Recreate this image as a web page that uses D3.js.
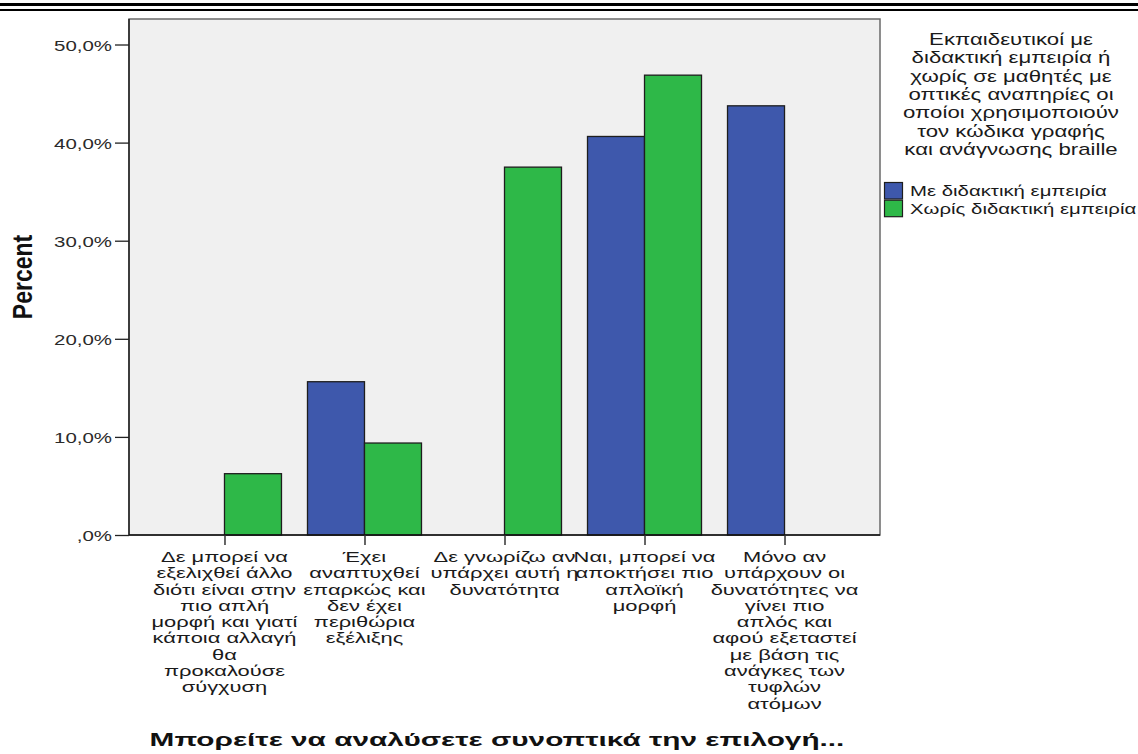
<!DOCTYPE html>
<html><head><meta charset="utf-8">
<script src="https://cdn.jsdelivr.net/npm/d3@7"></script>
<style>body{margin:0;background:#fff}svg{display:block}</style>
</head><body>
<svg id="c" width="1138" height="754"></svg>
<script>
// ---- data ----
const categories = [
  "Δε μπορεί να εξελιχθεί άλλο διότι είναι στην πιο απλή μορφή και γιατί κάποια αλλαγή θα προκαλούσε σύγχυση",
  "Έχει αναπτυχθεί επαρκώς και δεν έχει περιθώρια εξέλιξης",
  "Δε γνωρίζω αν υπάρχει αυτή η δυνατότητα",
  "Ναι, μπορεί να αποκτήσει πιο απλοϊκή μορφή",
  "Μόνο αν υπάρχουν οι δυνατότητες να γίνει πιο απλός και αφού εξεταστεί με βάση τις ανάγκες των τυφλών ατόμων"
];
const categoryLines = [
  ["Δε μπορεί να","εξελιχθεί άλλο","διότι είναι στην","πιο απλή","μορφή και γιατί","κάποια αλλαγή","θα","προκαλούσε","σύγχυση"],
  ["Έχει","αναπτυχθεί","επαρκώς και","δεν έχει","περιθώρια","εξέλιξης"],
  ["Δε γνωρίζω αν","υπάρχει αυτή η","δυνατότητα"],
  ["Ναι, μπορεί να","αποκτήσει πιο","απλοϊκή","μορφή"],
  ["Μόνο αν","υπάρχουν οι","δυνατότητες να","γίνει πιο","απλός και","αφού εξεταστεί","με βάση τις","ανάγκες των","τυφλών","ατόμων"]
];
const seriesNames = ["Με διδακτική εμπειρία", "Χωρίς διδακτική εμπειρία"];
const withExperience    = [0, 15.625, 0, 40.625, 43.75];
const withoutExperience = [6.25, 9.375, 37.5, 46.875, 0];
const seriesColors = ["#3e58ac", "#2eb848"];
const yTicks = [0, 10, 20, 30, 40, 50];
const yTickLabels = [",0%", "10,0%", "20,0%", "30,0%", "40,0%", "50,0%"];
const legendTitleLines = ["Εκπαιδευτικοί με","διδακτική εμπειρία ή","χωρίς σε μαθητές με","οπτικές αναπηρίες οι","οποίοι χρησιμοποιούν","τον κώδικα γραφής","και ανάγνωσης braille"];
const yTitle = "Percent";
const xTitle = "Μπορείτε να αναλύσετε συνοπτικά την επιλογή...";

// ---- layout ----
const svg = d3.select("#c");
const FONT = "'Liberation Sans', Arial, sans-serif";
const plot = {left: 129, right: 880, top: 19, bottom: 535};
const x = d3.scalePoint().domain(categories).range([plot.left, plot.right]).padding(0.682);
const sub = d3.scaleBand().domain(seriesNames).range([-57, 57]);
const y = d3.scaleLinear().domain([0, 52.6]).range([plot.bottom, plot.top]);
const seriesValues = [withExperience, withoutExperience];

function measure(txt, size, weight) {
  const t = svg.append("text").attr("font-family", FONT).attr("font-size", size)
    .attr("font-weight", weight || "normal").text(txt);
  const w = t.node().getComputedTextLength();
  t.remove();
  return w;
}

// top double rule
svg.append("rect").attr("x", 0).attr("y", 3).attr("width", 1138).attr("height", 3).attr("fill", "#000");
svg.append("rect").attr("x", 0).attr("y", 9).attr("width", 1138).attr("height", 2).attr("fill", "#000");

// plot background
svg.append("rect").attr("x", plot.left).attr("y", plot.top)
  .attr("width", plot.right - plot.left).attr("height", plot.bottom - plot.top)
  .attr("fill", "#f0f0f0").attr("stroke", "#6a6a6a").attr("stroke-width", 1.5);

// bars
const bars = [];
categories.forEach((c, i) => {
  seriesNames.forEach((s, j) => {
    const v = seriesValues[j][i];
    if (v > 0) bars.push({c, s, v, j});
  });
});
svg.append("g").selectAll("rect").data(bars).join("rect")
  .attr("x", d => x(d.c) + sub(d.s))
  .attr("y", d => y(d.v))
  .attr("width", sub.bandwidth())
  .attr("height", d => y(0) - y(d.v))
  .attr("fill", d => seriesColors[d.j])
  .attr("stroke", "#1e1e1e").attr("stroke-width", 1.3);

// axes lines
svg.append("line").attr("x1", plot.left).attr("x2", plot.left).attr("y1", plot.top).attr("y2", plot.bottom)
  .attr("stroke", "#111").attr("stroke-width", 1.3);
svg.append("line").attr("x1", plot.left).attr("x2", plot.right).attr("y1", plot.bottom).attr("y2", plot.bottom)
  .attr("stroke", "#111").attr("stroke-width", 1.3);

// y axis
const yAxis = d3.axisLeft(y).tickValues(yTicks).tickSize(14).tickPadding(3)
  .tickFormat((d, i) => yTickLabels[i]);
const gy = svg.append("g").attr("transform", `translate(${plot.left},0)`).call(yAxis);
gy.select(".domain").remove();
gy.selectAll(".tick line").attr("stroke", "#222").attr("stroke-width", 1.3);
const ySx = 58 / measure("50,0%", 15);
gy.selectAll(".tick text").attr("font-family", FONT).attr("font-size", 15).attr("fill", "#2a2a2a")
  .attr("x", 0).attr("dy", null).attr("y", 5.5)
  .attr("text-anchor", "end")
  .attr("transform", `translate(-17,0) scale(${ySx},1)`);

// x axis ticks
const xAxis = d3.axisBottom(x).tickSize(10).tickFormat("");
const gx = svg.append("g").attr("transform", `translate(0,${plot.bottom})`).call(xAxis);
gx.select(".domain").remove();
gx.selectAll(".tick line").attr("stroke", "#333").attr("stroke-width", 1.5);

// x tick labels (wrapped)
const xSx = 136 / measure("εξελιχθεί άλλο", 14);
const xl = svg.append("g").selectAll("g").data(categories).join("g")
  .attr("transform", d => `translate(${x(d)},0) scale(${xSx},1)`);
xl.each(function(d, i) {
  d3.select(this).selectAll("text").data(categoryLines[i]).join("text")
    .attr("x", 0).attr("y", (t, k) => 562 + k * 16.3)
    .attr("text-anchor", "middle").attr("font-family", FONT).attr("font-size", 14)
    .attr("fill", "#1a1a1a").text(t => t);
});

// y title
svg.append("g").attr("transform", `translate(32,${(plot.top + plot.bottom) / 2}) scale(1.2,1) rotate(-90)`)
  .append("text").attr("text-anchor", "middle").attr("font-family", FONT)
  .attr("font-weight", "bold").attr("font-size", 23).attr("fill", "#111").text(yTitle);

// x title
const tSx = 695 / measure(xTitle, 18, "bold");
svg.append("g").attr("transform", `translate(497,746) scale(${tSx},1)`)
  .append("text").attr("text-anchor", "middle").attr("font-family", FONT)
  .attr("font-weight", "bold").attr("font-size", 18).attr("fill", "#111").text(xTitle);

// legend
const lSx = 216 / measure("οποίοι χρησιμοποιούν", 16);
const lg = svg.append("g").attr("transform", `translate(1011,0) scale(${lSx},1)`);
lg.selectAll("text").data(legendTitleLines).join("text")
  .attr("x", 0).attr("y", (d, i) => 45 + i * 18.35)
  .attr("text-anchor", "middle").attr("font-family", FONT).attr("font-size", 16)
  .attr("fill", "#1a1a1a").text(d => d);

const iSx = 197 / measure(seriesNames[0], 14);
const items = svg.append("g").selectAll("g").data(seriesNames).join("g")
  .attr("transform", (d, i) => `translate(0,${182 + i * 17.7})`);
items.append("rect").attr("x", 884.5).attr("y", 0.5).attr("width", 18).attr("height", 16.5)
  .attr("fill", (d, i) => seriesColors[i]).attr("stroke", "#1e1e1e").attr("stroke-width", 1.2);
items.append("g").attr("transform", `translate(910,14) scale(${iSx},1)`)
  .append("text").attr("font-family", FONT).attr("font-size", 14).attr("fill", "#1a1a1a").text(d => d);
</script>
</body></html>
